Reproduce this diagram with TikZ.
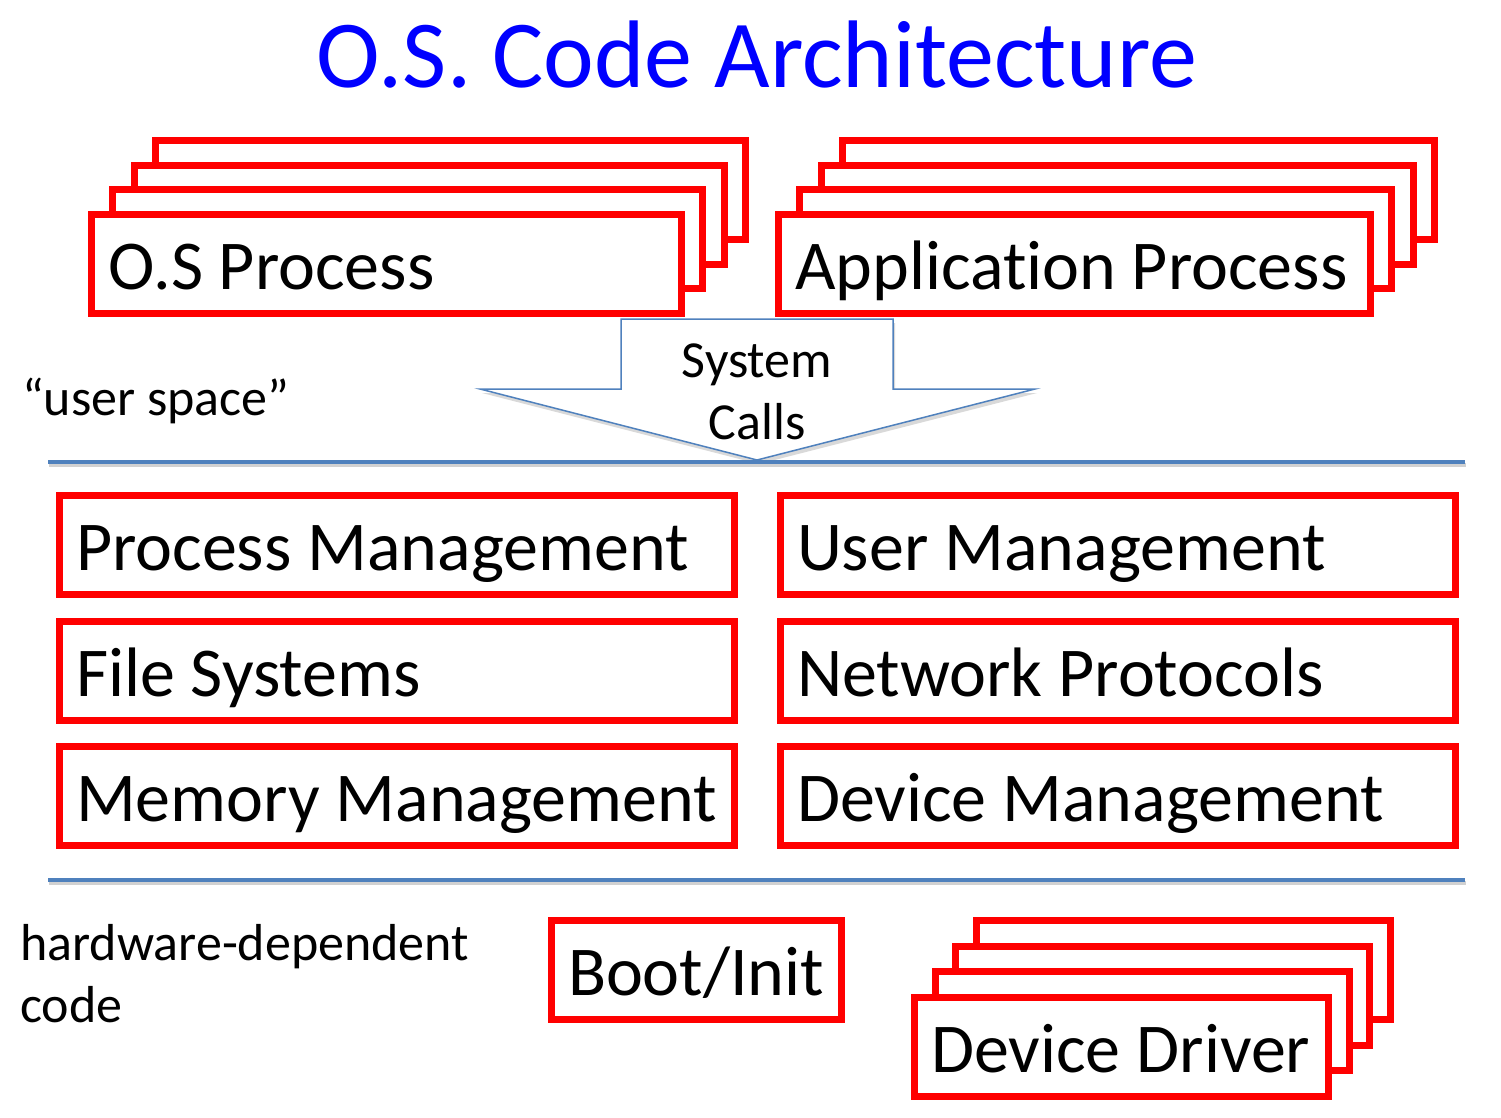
\documentclass[tikz,border=0pt]{standalone}
\usepackage{fontspec}
\setmainfont[Ligatures={NoCommon}]{Carlito}
\definecolor{osred}{RGB}{255,0,0}
\definecolor{osblue}{RGB}{79,129,189}
\definecolor{titleblue}{RGB}{0,0,255}
\begin{document}
\begin{tikzpicture}[x=1pt,y=-1pt,
  box/.style={draw=osred, line width=7pt, fill=white, anchor=north west,
    outer sep=0pt, inner xsep=16.5pt, inner ysep=0pt, minimum height=99pt,
    text height=50pt, text depth=0pt, align=flush left,
    font=\fontsize{70}{80}\selectfont},
  backbox/.style={draw=osred, line width=7pt, fill=white, anchor=north west,
    outer sep=0pt, inner sep=0pt, minimum height=99pt},
  smalltext/.style={font=\fontsize{52}{62}\selectfont, inner sep=0pt},
  sepline/.style={draw=osblue, line width=3.5pt},
  sepshadow/.style={draw=black, opacity=0.18, line width=3.5pt}]
\fill[white] (0,0) rectangle (1501,1118);
\useasboundingbox (0,0) rectangle (1501,1118);

% title
\node[font=\fontsize{96}{110}\selectfont, text=titleblue, anchor=base, inner sep=0pt] (title) at (757,88) {O.S. Code Architecture};

% system calls arrow
\fill[black, opacity=0.15] (623,323) -- (895,323) -- (895,393) -- (1037,393) -- (759,464) -- (482,393) -- (623,393) -- cycle;
\draw[osblue, line width=1.5pt, fill=white, line join=miter]
  (621,319) -- (893,319) -- (893,389) -- (1035,389) -- (757,460) -- (480,389) -- (621,389) -- cycle;
\node[smalltext, anchor=base] (sys) at (757,377) {System};
\node[smalltext, anchor=base] (calls) at (757,439) {Calls};

% O.S process stack
\foreach \k in {3,2,1} {
  \node[backbox, minimum width=590pt] (osb\k) at ({91.5+21.3*\k},{214.5-24.7*\k}) {};
}
\node[box, text width=557pt] (osp) at (91.5,214.5) {O.S Process};

% application process stack
\foreach \k in {3,2,1} {
  \node[backbox, minimum width=592pt] (apb\k) at ({778.5+21.3*\k},{214.5-24.7*\k}) {};
}
\node[box, text width=559pt] (app) at (778.5,214.5) {Application Process};

% user space label
\node[smalltext, anchor=base west] (us) at (22,415) {“user space”};

% separator lines
\coordinate (l1a) at (48,462);
\coordinate (l1b) at (1465,462);
\coordinate (l2a) at (48,880);
\coordinate (l2b) at (1465,880);
\draw[sepshadow] ([shift={(1,3)}]l1a) -- ([shift={(1,3)}]l1b);
\draw[sepline] (l1a) -- (l1b);
\draw[sepshadow] ([shift={(1,3)}]l2a) -- ([shift={(1,3)}]l2b);
\draw[sepline] (l2a) -- (l2b);

% kernel boxes
\node[box, text width=642pt] (pm) at (59.5,495.5) {Process Management};
\node[box, text width=642pt] (um) at (780.5,495.5) {User Management};
\node[box, text width=642pt] (fs) at (59.5,621.5) {File Systems};
\node[box, text width=642pt] (np) at (780.5,621.5) {Network Protocols};
\node[box, text width=642pt] (mm) at (59.5,746.5) {Memory Management};
\node[box, text width=642pt] (dm) at (780.5,746.5) {Device Management};

% hardware-dependent
\node[smalltext, anchor=base west] (hw1) at (20,960) {hardware-dependent};
\node[smalltext, anchor=base west] (hw2) at (20,1022) {code};

\node[box, text width=257pt] (boot) at (551.5,920.5) {Boot/Init};

% device driver stack
\foreach \k in {3,2,1} {
  \node[backbox, minimum width=414pt] (ddb\k) at ({914.5+20.7*\k},{997.5-25.7*\k}) {};
}
\node[box, text width=381pt] (dd) at (914.5,997.5) {Device Driver};
\end{tikzpicture}
\end{document}
